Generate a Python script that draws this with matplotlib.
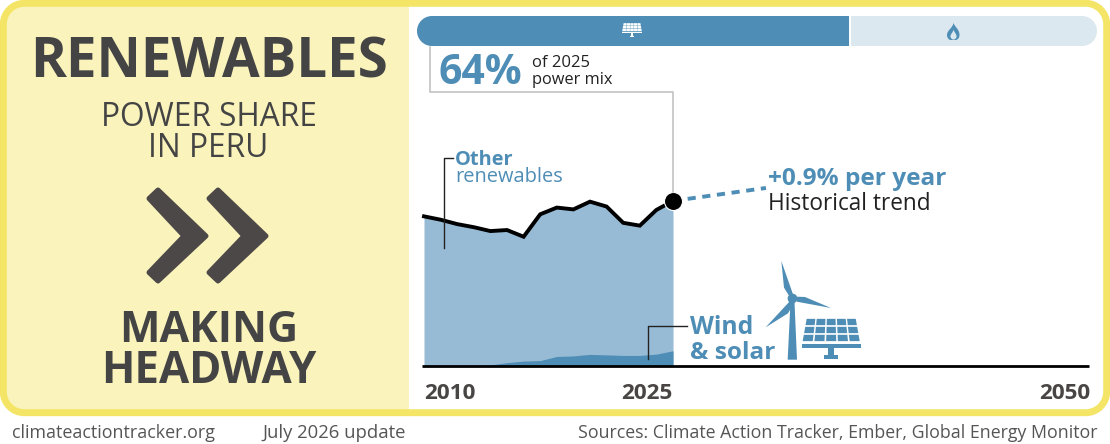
import matplotlib
matplotlib.use("Agg")
import matplotlib.pyplot as plt
from matplotlib.patches import Polygon, PathPatch
from matplotlib.path import Path

# ---------- data ----------
years = [2010, 2011, 2012, 2013, 2014, 2015, 2016, 2017, 2018, 2019, 2020, 2021, 2022, 2023, 2024, 2025]
total_renewables = [58.0, 56.7, 55.0, 53.8, 52.3, 52.7, 50.1, 58.8, 61.4, 60.7, 63.7, 61.8, 55.5, 54.4, 60.5, 64.0]
wind_solar = [0, 0, 0, 0, 0.4, 1.3, 1.9, 2.1, 3.7, 3.9, 4.5, 4.3, 4.1, 4.1, 4.6, 5.9]
trend_years = [2025, 2030.6]
trend_values = [64.0, 69.0]
mix_shares = [63.7, 36.3]
tick_years = [2010, 2025, 2050]

BLUE = "#4E8DB5"
LIGHT = "#97BBD5"
PALE = "#DCE8F0"
YELLOW = "#F4E566"
CREAM = "#FAF3BC"
DARK = "#444444"
ARROW = "#4D4848"
FOOT = "#555555"
FONT = "Open Sans"

W, H = 1110, 444
fig = plt.figure(figsize=(W / 100, H / 100), dpi=100, facecolor="white")
plt.rcParams["font.family"] = [FONT, "DejaVu Sans"]


def px_axes(l, t, r, b, **kw):
    return fig.add_axes([l / W, 1 - b / H, (r - l) / W, (b - t) / H], **kw)


def rrect(x0, y0, x1, y1, r):
    """Rounded rectangle path with circular corners."""
    k = 0.5523 * r
    verts = [(x0 + r, y0), (x1 - r, y0),
             (x1 - r + k, y0), (x1, y0 + r - k), (x1, y0 + r),
             (x1, y1 - r),
             (x1, y1 - r + k), (x1 - r + k, y1), (x1 - r, y1),
             (x0 + r, y1),
             (x0 + r - k, y1), (x0, y1 - r + k), (x0, y1 - r),
             (x0, y0 + r),
             (x0, y0 + r - k), (x0 + r - k, y0), (x0 + r, y0),
             (x0 + r, y0)]
    codes = [Path.MOVETO, Path.LINETO] + [Path.CURVE4] * 3 + [Path.LINETO] + [Path.CURVE4] * 3 + \
            [Path.LINETO] + [Path.CURVE4] * 3 + [Path.LINETO] + [Path.CURVE4] * 3 + [Path.CLOSEPOLY]
    return Path(verts, codes)


# ---------- background in pixel space ----------
bg = px_axes(0, 0, W, H, zorder=0)
bg.set_xlim(0, W); bg.set_ylim(H, 0); bg.axis("off")
frame_path = rrect(3.3, 3.3, W - 3.3, 412.7, 21)
panel_clip = PathPatch(frame_path, fc="none", ec="none")
bg.add_patch(panel_clip)
cream = bg.fill_between([0, 409], 0, H, color=CREAM, lw=0, zorder=1)
cream.set_clip_path(panel_clip)
bg.add_patch(PathPatch(frame_path, fc="none", ec=YELLOW, lw=5, zorder=3))

# ---------- chart ----------
ax = px_axes(424, 108, 1088, 366, zorder=1)
ax.set_xlim(2010, 2050); ax.set_ylim(0, 100)
ax.axis("off")
ax.fill_between(years, 0, total_renewables, color=LIGHT, lw=0, zorder=1)
ax.fill_between(years, 0, wind_solar, color=BLUE, lw=0, zorder=2)
ax.plot(trend_years, trend_values, color=BLUE, lw=2.8, ls=(0, (2.1, 1.7)), zorder=3)
ax.plot(years, total_renewables, color="black", lw=2.8, zorder=4, solid_joinstyle="miter",
        clip_on=False)
ax.plot([years[-1]], [total_renewables[-1]], "o", color="black", ms=13, mec="white", mew=0.8,
        zorder=6, clip_on=False)

# ---------- power mix bar ----------
bar = px_axes(417, 16, 1097, 46, zorder=1)
bar.set_xlim(0, 100); bar.set_ylim(0, 1); bar.axis("off")
clip = PathPatch(rrect(417, 16, 1097, 46, 15), fc="none", ec="none", transform=bg.transData)
bg.add_patch(clip)
left = 0
for share, col in zip(mix_shares, [BLUE, PALE]):
    for b in bar.barh(0.5, share, left=left, height=1, color=col, lw=0):
        b.set_clip_path(clip)
    left += share
bar.axvline(mix_shares[0], color="white", lw=1.4)

# ---------- foreground in pixel space ----------
o = px_axes(0, 0, W, H, zorder=5)
o.set_xlim(0, W); o.set_ylim(H, 0); o.axis("off"); o.patch.set_alpha(0)


def T(x, y, s, size, color=DARK, weight="normal", ha="left"):
    o.text(x, y, s, fontsize=size, color=color, fontweight=weight, ha=ha, va="baseline", family=FONT)


o.plot([422, 1089], [366, 366], color="black", lw=2, solid_capstyle="butt", zorder=5)
o.plot([430, 430, 673, 673], [47, 91.7, 91.7, 192], color="#BDBDBD", lw=1.1, zorder=1)
o.plot([453, 443.5, 443.5], [158.5, 158.5, 248], color="#222222", lw=1, zorder=2)
o.plot([686.7, 647.5, 647.5], [326, 326, 359], color="#222222", lw=1, zorder=2)

# chevrons
for dx in (0, 60):
    o.add_patch(Polygon([(149 + dx, 198.5), (158 + dx, 190), (206 + dx, 236), (158 + dx, 281),
                         (149 + dx, 272.5), (184 + dx, 236)], closed=True, fc=ARROW, ec=ARROW,
                        lw=3.6, joinstyle="round", zorder=3))


def solar(x0, x1, y0, y1, color, gap=0.018):
    """Solar panel icon in a pixel box."""
    w = x1 - x0; h = y1 - y0
    X = lambda u, v: x0 + w * (0.5 + (u - 0.5) * (0.85 + 0.15 * v))
    Y = lambda v: y0 + h * 0.58 * v
    cols, rows = 5, 3
    for r in range(rows):
        for c in range(cols):
            u0, u1 = (c + gap * 2) / cols, (c + 1 - gap * 2) / cols
            v0, v1 = (r + gap * 3) / rows, (r + 1 - gap * 3) / rows
            o.add_patch(Polygon([(X(u0, v0), Y(v0)), (X(u1, v0), Y(v0)), (X(u1, v1), Y(v1)), (X(u0, v1), Y(v1))],
                                fc=color, ec="none", zorder=3))
    rects = [(0, 1, .62, .72), (.45, .55, .72, .9), (.38, .62, .9, 1)]
    for a, b, c, d in rects:
        o.add_patch(Polygon([(x0 + w * a, y0 + h * c), (x0 + w * b, y0 + h * c),
                             (x0 + w * b, y0 + h * d), (x0 + w * a, y0 + h * d)],
                            fc=color, ec="none", zorder=3))


solar(801.7, 860.7, 318, 359.3, BLUE, gap=0.035)
solar(622, 642, 23, 37.5, "white", gap=0.02)

# turbine
Z = lambda pts: [(760 + a / 3, 255 + b / 3) for a, b in pts]
for pts in ([(92, 130), (103, 130), (111, 314), (83, 314)],
            [(64, 18), (99, 118), (92, 130), (72, 98)],
            [(213, 159), (110, 140), (110, 125), (135, 126)],
            [(17, 217), (90, 138), (100, 148), (84, 175)]):
    o.add_patch(Polygon(Z(pts), fc=BLUE, ec="none", zorder=3))
o.plot([760 + 97 / 3], [255 + 130 / 3], "o", color=BLUE, ms=7, mew=0, zorder=3)

# flame
C = Path.CURVE4
o.add_patch(PathPatch(Path(
    [(953.5, 22.7), (954.5, 27), (959.5, 29), (959.5, 35), (959.5, 38), (957.5, 40), (955.5, 40),
     (956.5, 40), (951, 40), (950.5, 40), (948, 39.5), (947, 37), (947, 35), (947, 30), (953, 28), (953.5, 22.7)],
    [Path.MOVETO, C, C, C, C, C, C, C, C, C, C, C, C, C, C, C]), fc=BLUE, ec="none", zorder=3))
o.add_patch(PathPatch(Path(
    [(953.5, 29.5), (954, 32.5), (957, 34), (956.5, 37), (956, 38.5), (955, 39.5), (953.5, 39.5),
     (952, 39.5), (951, 38.5), (950.5, 37), (950, 34), (953, 33), (953.5, 29.5)],
    [Path.MOVETO, C, C, C, C, C, C, C, C, C, C, C, C]), fc=PALE, ec="none", zorder=4))

# left panel text
T(209, 78, "RENEWABLES", 39.3, DARK, "bold", "center")
T(208.5, 126, "POWER SHARE", 22.8, DARK, "normal", "center")
T(208, 157, "IN PERU", 22.8, DARK, "normal", "center")
T(208.5, 342, "MAKING", 31, DARK, "bold", "center")
T(208.5, 383, "HEADWAY", 31.5, DARK, "bold", "center")

# chart text
T(439, 84, "64%", 29.5, BLUE, "bold")
T(532, 67, "of 2025", 12, "#222222")
T(532, 84, "power mix", 11.8, "#222222")
T(455, 165, "Other", 14.4, BLUE, "bold")
T(455, 181.5, "renewables", 14.4, BLUE)
T(768, 185, "+0.9% per year", 17.6, BLUE, "bold")
T(768, 210, "Historical trend", 16.3, "#222222")
T(690, 334, "Wind", 17.8, BLUE, "bold")
T(690, 359, "& solar", 17.6, BLUE, "bold")

# year labels placed through the chart's x scale
for yr, ha, dx in zip(tick_years, ["left", "center", "right"], [0, -26, 2]):
    xp = 424 + (yr - 2010) * (1088 - 424) / 40 + dx
    T(xp, 399, str(yr), 16.2, "#4A4545", "bold", ha)

# footer
T(12, 438, "climateactiontracker.org", 12.9, FOOT)
T(262, 438, "July 2026 update", 13.3, FOOT)
T(1098, 438, "Sources: Climate Action Tracker, Ember, Global Energy Monitor", 12.8, FOOT, "normal", "right")

fig.savefig("out.png", dpi=100, facecolor="white")
